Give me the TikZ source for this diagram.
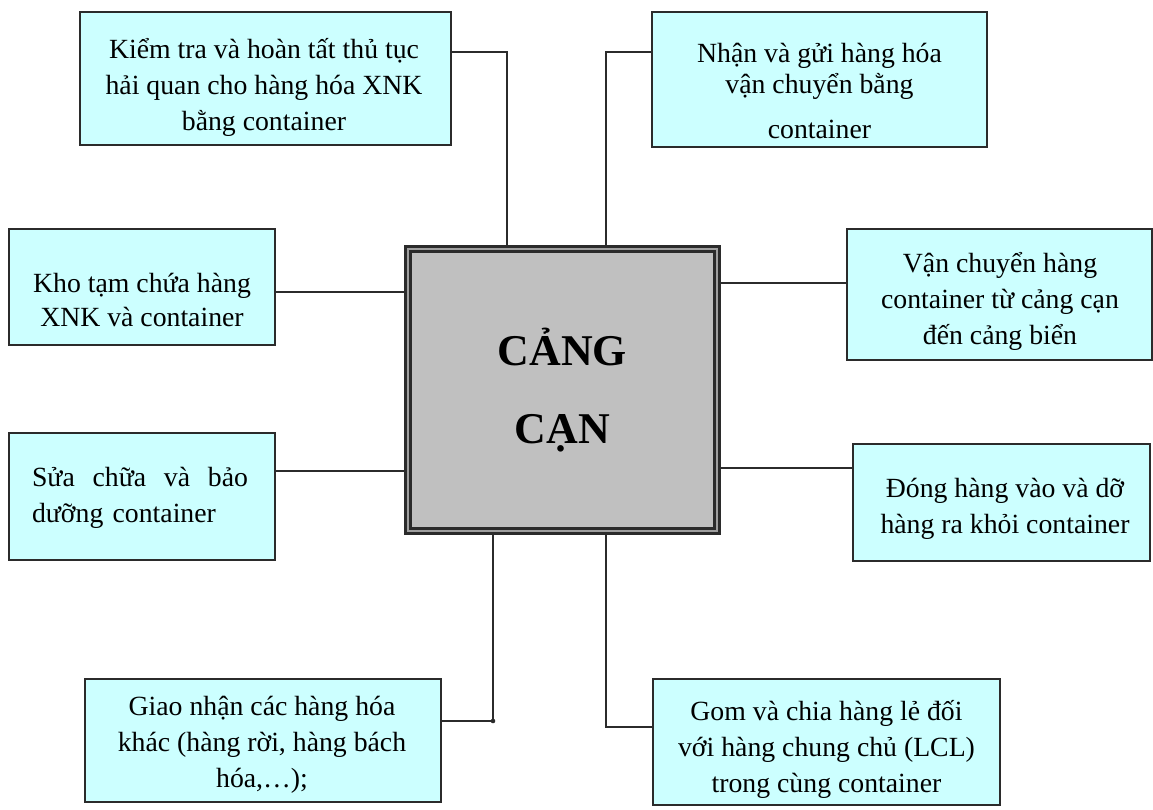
\documentclass[tikz,border=0pt]{standalone}
\usepackage{fontspec}
\setmainfont{Liberation Serif}
\definecolor{xanhnhat}{HTML}{CCFFFF}
\definecolor{xamnen}{HTML}{C0C0C0}
\definecolor{vien}{HTML}{2B2B2B}
\begin{document}
\begin{tikzpicture}[x=0.02cm,y=-0.02cm,
  khung/.style={draw=vien,line width=1.1pt,fill=xanhnhat,inner sep=0pt},
  chu/.style={align=center,inner sep=0pt,font=\fontsize{15.8}{20.5}\selectfont},
  noi/.style={draw=vien,line width=1pt}]
\useasboundingbox (0,0) rectangle (1153,809);
%Cang can
\node[draw=vien,line width=1.6pt,double=gray!75,double distance=1.6pt,fill=xamnen,
  minimum width=6.18cm,minimum height=5.64cm,align=center,
  font=\fontsize{25}{44}\selectfont\bfseries] (cangcan) at (562.5,390) {CẢNG\\CẠN};
%Khung 1
\node[khung,minimum width=7.42cm,minimum height=2.66cm] (kiemtra) at (265.5,78.5) {};
\node[chu] (kiemtrachu) at (264,87)
  {Kiểm tra và hoàn tất thủ tục\\hải quan cho hàng hóa XNK\\bằng container};
%Khung 2
\node[khung,minimum width=6.7cm,minimum height=2.7cm] (nhan) at (819.5,79.5) {};
\node[chu,font=\fontsize{15.8}{17.6}\selectfont] (nhanchu) at (819.5,91)
  {Nhận và gửi hàng hóa\\vận chuyển bằng\\[8pt]container};
%Khung 3
\node[khung,minimum width=5.32cm,minimum height=2.32cm] (kho) at (142,287) {};
\node[chu,font=\fontsize{15.8}{19}\selectfont] (khochu) at (142,300)
  {Kho tạm chứa hàng\\XNK và container};
%Khung 4
\node[khung,minimum width=6.1cm,minimum height=2.62cm] (vanchuyen) at (999.5,294.5) {};
\node[chu] (vanchuyenchu) at (1000,301)
  {Vận chuyển hàng\\container từ cảng cạn\\đến cảng biển};
%Khung 5
\node[khung,minimum width=5.32cm,minimum height=2.54cm] (suachua) at (142,496.5) {};
\node[chu,align=left,text width=4.32cm] (suachuachu) at (140,498)
  {Sửa\hfill chữa\hfill và\hfill bảo\\dưỡng container};
%Khung 6
\node[khung,minimum width=5.94cm,minimum height=2.34cm] (donghang) at (1001.5,502.5) {};
\node[chu] (donghangchu) at (1005,509)
  {Đóng hàng vào và dỡ\\hàng ra khỏi container};
%Khung 7
\node[khung,minimum width=7.12cm,minimum height=2.46cm] (giaonhan) at (263,740.5) {};
\node[chu] (giaonhanchu) at (262,745)
  {Giao nhận các hàng hóa\\khác (hàng rời, hàng bách\\hóa,…);};
%Khung 8
\node[khung,minimum width=6.94cm,minimum height=2.52cm] (gom) at (826.5,742) {};
\node[chu] (gomchu) at (826.5,749)
  {Gom và chia hàng lẻ đối\\với hàng chung chủ (LCL)\\trong cùng container};
%Duong noi
\coordinate (r1) at (507,52);
\coordinate (r2) at (606,52);
\coordinate (r3) at (0,292);
\coordinate (r4) at (0,283);
\coordinate (r5) at (0,471);
\coordinate (r6) at (0,468);
\coordinate (r7) at (493,721);
\coordinate (r8) at (606,727);
\draw[noi] (kiemtra.east |- r1) -| (cangcan.north -| r1);
\draw[noi] (nhan.west |- r2) -| (cangcan.north -| r2);
\draw[noi] (kho.east |- r3) -- (cangcan.west |- r3);
\draw[noi] (vanchuyen.west |- r4) -- (cangcan.east |- r4);
\draw[noi] (suachua.east |- r5) -- (cangcan.west |- r5);
\draw[noi] (donghang.west |- r6) -- (cangcan.east |- r6);
\draw[noi] (giaonhan.east |- r7) -| (cangcan.south -| r7);
\draw[noi] (gom.west |- r8) -| (cangcan.south -| r8);
\fill[vien] (r7) circle (1.3pt);
\end{tikzpicture}
\end{document}
